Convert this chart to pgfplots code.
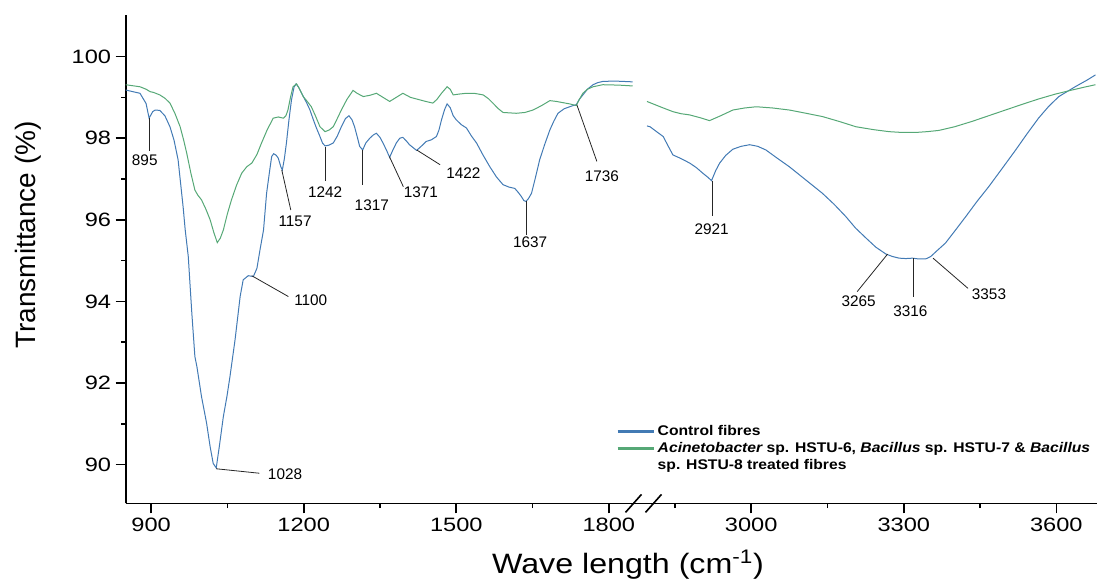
\documentclass[border=0pt]{standalone}
\usepackage{pgfplots}
\pgfplotsset{compat=1.18}
\usepackage{fontspec}
\setmainfont{Liberation Sans}[FakeStretch=1.15]
\newfontfamily\plainfont{Liberation Sans}
\newfontfamily\tickfont{Liberation Sans}[FakeStretch=1.22]
\newfontfamily\legfont{Liberation Sans}[FakeStretch=1.12]
\definecolor{ctrl}{RGB}{66,122,180}
\definecolor{trt}{RGB}{86,168,118}
\begin{document}
\begin{tikzpicture}
\useasboundingbox (-94.3pt,-58.9pt) rectangle (728.5pt,377.6pt);
\begin{axis}[
  at={(0pt,0pt)}, anchor=south west,
  scale only axis, width=728.5pt, height=366.4pt,
  xmin=850, xmax=2760, ymin=89.05, ymax=101.02,
  axis x line=bottom, axis y line=left,
  axis line style={-, line width=1.4pt, black},
  tick align=outside, major tick length=7.5pt, minor tick length=3.5pt,
  every tick/.style={line width=1.2pt, black},
  xtick={900,1200,1500,1800,2080,2380,2680},
  xticklabels={900,1200,1500,1800,3000,3300,3600},
  minor xtick={1050,1350,1650,1930,2230,2530},
  ytick={90,92,...,100}, minor ytick={91,93,...,99},
  /pgf/number format/assume math mode=true,
  ticklabel style={font=\tickfont\fontsize{14.5}{16}\selectfont},
  ylabel={Transmittance (\%)},
  ylabel style={font=\plainfont\fontsize{21}{24}\selectfont, at={(axis description cs:-0.1006,0.5496)}, anchor=center},
  xlabel={Wave length (cm\textsuperscript{-1})},
  xlabel style={font=\fontsize{21}{24}\selectfont, at={(axis description cs:0.5171,-0.1259)}, anchor=center},
  clip=false,
  legend style={at={(axis cs:1806,91.1)}, anchor=north west, draw=none, fill=none,
    font=\legfont\fontsize{10.5}{12.75}\selectfont\bfseries, row sep=-0.5pt},
  legend cell align=left,
  legend image code/.code={\draw[line width=2.2pt] (0pt,0pt) -- (27pt,0pt);},
]
\addplot[ctrl, line width=0.75pt] table[x=w, y=T] {
w T
850 99.18
878 99.10
890 98.85
896 98.49
903 98.65
908 98.69
917 98.68
927 98.55
937 98.28
945 97.95
953 97.47
963 96.30
967 95.75
973 95.10
980 93.71
986 92.65
990 92.40
999 91.67
1009 91.02
1016 90.44
1022 90.03
1028 89.92
1034 90.44
1042 91.18
1049 91.67
1055 92.16
1065 93.06
1075 94.12
1081 94.53
1091 94.63
1101 94.61
1108 94.81
1114 95.26
1121 95.75
1127 96.65
1133 97.20
1137 97.55
1141 97.62
1146 97.58
1150 97.51
1155 97.30
1158 97.22
1162 97.50
1166 97.88
1171 98.45
1176 98.94
1181 99.25
1185 99.33
1190 99.25
1196 99.10
1206 98.86
1212 98.70
1219 98.45
1225 98.25
1232 98.04
1237 97.88
1242 97.81
1250 97.83
1258 97.88
1266 98.05
1274 98.28
1282 98.48
1289 98.55
1295 98.45
1300 98.28
1306 98.00
1310 97.80
1316 97.71
1322 97.88
1330 98.00
1337 98.08
1343 98.12
1350 98.02
1356 97.88
1363 97.70
1369 97.53
1375 97.70
1382 97.88
1389 98.00
1395 98.02
1402 97.93
1408 97.84
1415 97.77
1422 97.70
1431 97.80
1441 97.92
1451 97.96
1461 98.04
1466 98.20
1471 98.45
1477 98.70
1482 98.84
1488 98.75
1494 98.55
1500 98.45
1510 98.33
1520 98.25
1530 98.05
1540 97.88
1552 97.60
1566 97.30
1579 97.05
1592 96.86
1604 96.80
1615 96.77
1622 96.67
1628 96.57
1633 96.47
1637 96.45
1642 96.52
1648 96.65
1656 97.05
1664 97.47
1674 97.85
1684 98.20
1692 98.42
1700 98.61
1712 98.72
1723 98.77
1730 98.80
1736 98.82
1742 98.95
1749 99.06
1758 99.20
1769 99.31
1778 99.36
1788 99.39
1810 99.40
1830 99.39
1847 99.38
};
\addlegendentry{Control fibres}
\addplot[trt, line width=0.75pt] table[x=w, y=T] {
w T
850 99.31
878 99.26
890 99.20
898 99.14
905 99.12
917 99.06
927 98.98
937 98.86
947 98.60
957 98.28
964 97.95
970 97.63
978 97.15
986 96.73
992 96.60
999 96.49
1008 96.25
1016 96.00
1023 95.70
1030 95.44
1036 95.55
1042 95.75
1050 96.15
1058 96.49
1068 96.85
1078 97.14
1088 97.30
1098 97.39
1108 97.60
1117 97.88
1128 98.20
1140 98.49
1150 98.52
1160 98.49
1165 98.55
1169 98.69
1174 99.00
1179 99.26
1186 99.33
1192 99.20
1199 99.02
1207 98.90
1215 98.77
1223 98.55
1232 98.28
1242 98.16
1250 98.20
1258 98.28
1266 98.48
1274 98.69
1285 98.95
1297 99.17
1305 99.10
1317 99.02
1330 99.05
1343 99.10
1356 99.00
1369 98.90
1382 99.00
1395 99.10
1410 99.00
1428 98.94
1440 98.90
1454 98.86
1462 98.95
1471 99.10
1482 99.26
1488 99.20
1494 99.06
1505 99.08
1520 99.10
1535 99.10
1553 99.06
1563 98.97
1572 98.86
1582 98.73
1592 98.63
1605 98.62
1618 98.61
1635 98.63
1651 98.69
1668 98.80
1684 98.92
1697 98.90
1710 98.87
1723 98.84
1736 98.80
1742 98.95
1749 99.10
1758 99.20
1769 99.26
1788 99.31
1820 99.30
1847 99.28
};
\addlegendentry{{\itshape Acinetobacter} sp. HSTU-6, {\itshape Bacillus} sp. HSTU-7 \& {\itshape Bacillus}}
\addlegendimage{empty legend}
\addlegendentry{sp. HSTU-8 treated fibres}
% right segment (wavenumber shifted by 920 to close the axis break)
\addplot[ctrl, line width=0.75pt, forget plot] table[x expr=\thisrow{w}-920, y=T] {
w T
2795 98.30
2801 98.28
2815 98.15
2827 98.04
2837 97.80
2846 97.59
2862 97.50
2879 97.39
2892 97.28
2905 97.14
2914 97.05
2922 96.96
2930 97.20
2938 97.39
2950 97.58
2964 97.73
2980 97.80
2997 97.84
3013 97.80
3029 97.71
3050 97.52
3075 97.30
3107 96.98
3140 96.65
3163 96.38
3186 96.08
3205 95.80
3226 95.55
3245 95.33
3265 95.16
3278 95.10
3291 95.06
3304 95.05
3317 95.06
3330 95.04
3343 95.04
3353 95.10
3366 95.25
3382 95.43
3400 95.72
3422 96.08
3444 96.45
3467 96.81
3493 97.25
3520 97.71
3542 98.10
3565 98.49
3585 98.78
3605 99.02
3637 99.26
3660 99.42
3677 99.55
};
\addplot[trt, line width=0.75pt, forget plot] table[x expr=\thisrow{w}-920, y=T] {
w T
2795 98.90
2801 98.87
2823 98.76
2846 98.65
2862 98.60
2879 98.57
2900 98.50
2918 98.43
2940 98.55
2964 98.69
2987 98.74
3010 98.77
3042 98.74
3075 98.69
3108 98.61
3140 98.53
3173 98.41
3206 98.28
3240 98.21
3271 98.16
3297 98.14
3323 98.14
3346 98.16
3369 98.19
3400 98.28
3434 98.41
3467 98.55
3500 98.69
3533 98.83
3565 98.96
3598 99.08
3631 99.18
3655 99.25
3677 99.31
};
% peak annotations
\tikzset{ann/.style={black!85, line width=0.6pt}, lab/.style={font=\plainfont\fontsize{11.5}{12}\selectfont, inner sep=0pt}}
\draw[ann] (axis cs:895.8,98.50) -- (axis cs:895.8,97.69);
\node[lab] at (axis cs:887.4,97.47) {895};
\draw[ann] (axis cs:1156.9,97.22) -- (axis cs:1174.6,96.24);
\node[lab] at (axis cs:1183.0,95.96) {1157};
\draw[ann] (axis cs:1242,97.79) -- (axis cs:1242,96.94);
\node[lab] at (axis cs:1242,96.68) {1242};
\draw[ann] (axis cs:1316.2,97.71) -- (axis cs:1316.2,96.86);
\node[lab] at (axis cs:1333.9,96.35) {1317};
\draw[ann] (axis cs:1368.5,97.55) -- (axis cs:1396,96.81);
\node[lab] at (axis cs:1430.3,96.68) {1371};
\draw[ann] (axis cs:1422.4,97.71) -- (axis cs:1468.2,97.35);
\node[lab] at (axis cs:1514.1,97.14) {1422};
\draw[ann] (axis cs:1637.4,96.45) -- (axis cs:1637.4,95.63);
\node[lab] at (axis cs:1645.2,95.45) {1637};
\draw[ann] (axis cs:1737.1,98.82) -- (axis cs:1776.5,97.43);
\node[lab] at (axis cs:1786.3,97.08) {1736};
\draw[ann] (axis cs:1097.8,94.63) -- (axis cs:1169.8,94.12);
\node[lab] at (axis cs:1213.9,94.04) {1100};
\draw[ann] (axis cs:1027.6,89.90) -- (axis cs:1112.8,89.79);
\node[lab] at (axis cs:1163.3,89.76) {1028};
\draw[ann] (axis cs:2004.3,96.96) -- (axis cs:2004.3,96.10);
\node[lab] at (axis cs:2002.2,95.78) {2921};
\draw[ann] (axis cs:2348.2,95.16) -- (axis cs:2288.4,94.24);
\node[lab] at (axis cs:2291.2,94.00) {3265};
\draw[ann] (axis cs:2399.8,95.06) -- (axis cs:2399.8,94.12);
\node[lab] at (axis cs:2393,93.75) {3316};
\draw[ann] (axis cs:2437.6,95.06) -- (axis cs:2506.3,94.32);
\node[lab] at (axis cs:2547.6,94.18) {3353};
% axis break marks
\draw[line width=1.2pt] ([shift={(-6pt,-6.75pt)}]axis cs:1848.5,89.05) -- ([shift={(6pt,6.75pt)}]axis cs:1848.5,89.05);
\draw[line width=1.2pt] ([shift={(-6pt,-6.75pt)}]axis cs:1887.8,89.05) -- ([shift={(6pt,6.75pt)}]axis cs:1887.8,89.05);
\end{axis}
\end{tikzpicture}
\end{document}
